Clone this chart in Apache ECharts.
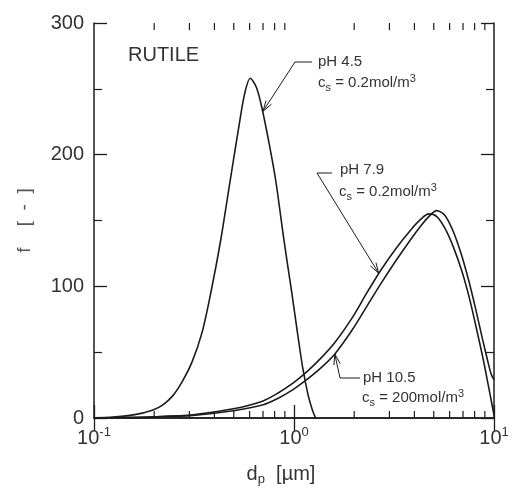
<!DOCTYPE html>
<html><head><meta charset="utf-8">
<script src="https://cdn.jsdelivr.net/npm/echarts@6/dist/echarts.min.js"></script>
<style>html,body{margin:0;padding:0;background:#fff}#c{width:516px;height:491px}</style>
</head><body><div id="c"></div>
<script>
// ---- data ----
const ph45_d = [0.100,0.1245,0.148,0.172,0.197,0.221,0.248,0.277,0.310,0.347,0.386,0.430,0.477,0.531,0.566,0.604,0.649,0.690,0.752,0.811,0.889,0.973,1.038,1.106,1.178,1.236,1.282];
const ph45_f = [0.2,0.8,1.8,3.5,6,10,17,28,43,65,97,135,178,222,246,258,251,236,208,180,136,96,66,38,17,6,0];

const ph79_d = [0.100,0.1245,0.198,0.313,0.497,0.701,0.833,0.988,1.108,1.314,1.594,1.953,2.312,2.737,3.243,3.843,4.306,4.717,5.176,5.689,6.259,6.892,7.507,8.085,8.819,9.387,9.748,10];
const ph79_f = [0.15,0.3,1,2.5,7,13,19,26.5,32.5,43,57,76,95,113,129,143,151,155,153,144,130,112,92,71,45,24,11,2];

const ph105_d = [0.100,0.1245,0.198,0.313,0.497,0.702,0.834,0.989,1.109,1.316,1.597,1.957,2.317,2.744,3.250,3.849,4.311,4.720,5.170,5.675,6.242,6.874,7.486,8.062,8.790,9.348,9.698,10];
const ph105_f = [0.15,0.3,0.8,2,5.5,10,15,21.5,27,36,48.5,67,85,103,120,136,146,153,157.5,154,142,124,104,84,59,42,33,29];

const minorLogTicks = [0.2,0.3,0.4,0.5,0.6,0.7,0.8,0.9,2,3,4,5,6,7,8,9];
const yMin = 0, yMax = 300, yStep = 100;

const FONT = "'Liberation Sans', Arial, Helvetica, sans-serif";
const INK = '#1c1c1c';
const TXT = '#333';

function zip(a, b) { return a.map((v, i) => [v, b[i]]); }

const chart = echarts.init(document.getElementById('c'), null, {renderer: 'canvas'});

const supRich = {
  b: {fontSize: 20, fontFamily: FONT, fontWeight: 'normal', color: TXT, lineHeight: 24},
  s: {fontSize: 13, fontFamily: FONT, fontWeight: 'normal', color: TXT, lineHeight: 14, verticalAlign: 'top'}
};

const lineSeries = (name, d, f) => ({
  name, type: 'line', data: zip(d, f), showSymbol: false, smooth: 0.3,
  lineStyle: {color: INK, width: 1.6}, silent: true, z: 3
});

const option = {
  animation: false,
  backgroundColor: '#fff',
  grid: {left: 94, right: 22, top: 23, bottom: 69},
  xAxis: [
    {
      type: 'log', logBase: 10, min: 0.1, max: 10, position: 'bottom',
      axisLine: {lineStyle: {color: INK, width: 1.5}},
      axisTick: {inside: true, length: 13, lineStyle: {color: INK, width: 1.3}},
      splitLine: {show: false},
      axisLabel: {
        margin: 8,
        formatter: v => '{b|10}{s|' + Math.round(Math.log10(v)) + '}',
        rich: supRich
      },
      name: '{b|d}{sb|p}{b|  [µm]}',
      nameLocation: 'middle', nameGap: 44,
      nameTextStyle: {
        padding: [0, 26, 0, 0],
        rich: {
          b: {fontSize: 20, fontFamily: FONT, fontWeight: 'normal', color: TXT, lineHeight: 24},
          sb: {fontSize: 13, fontFamily: FONT, fontWeight: 'normal', color: TXT, lineHeight: 14, verticalAlign: 'bottom'}
        }
      }
    },
    {
      type: 'log', logBase: 10, min: 0.1, max: 10, position: 'top',
      axisLine: {lineStyle: {color: INK, width: 1.5}},
      axisTick: {inside: true, length: 13, lineStyle: {color: INK, width: 1.3}},
      axisLabel: {show: false}, splitLine: {show: false}
    }
  ],
  yAxis: [
    {
      type: 'value', min: yMin, max: yMax, interval: yStep, position: 'left',
      axisLine: {show: true, lineStyle: {color: INK, width: 1.5}},
      axisTick: {show: true, inside: true, length: 13, lineStyle: {color: INK, width: 1.3}},
      minorTick: {show: true, splitNumber: 2, length: 8, lineStyle: {color: INK, width: 1.2}},
      splitLine: {show: false},
      axisLabel: {margin: 10, fontSize: 20, fontFamily: FONT, color: TXT},
      name: 'f    [  -  ]', nameLocation: 'middle', nameGap: 60,
      nameTextStyle: {fontSize: 19, fontFamily: FONT, color: '#555'}
    },
    {
      type: 'value', min: yMin, max: yMax, interval: yStep, position: 'right',
      axisLine: {show: true, lineStyle: {color: INK, width: 1.5}},
      axisTick: {show: true, inside: true, length: 13, lineStyle: {color: INK, width: 1.3}},
      minorTick: {show: true, splitNumber: 2, length: 8, lineStyle: {color: INK, width: 1.2}},
      splitLine: {show: false},
      axisLabel: {show: false}
    }
  ],
  series: [
    lineSeries('pH 4.5', ph45_d, ph45_f),
    lineSeries('pH 7.9', ph79_d, ph79_f),
    lineSeries('pH 10.5', ph105_d, ph105_f),
    {
      type: 'custom', silent: true, clip: false, z: 4,
      data: minorLogTicks.map(v => [v, yMin]),
      encode: {x: 0, y: 1},
      renderItem: (params, api) => {
        const v = api.value(0);
        const b = api.coord([v, yMin]);
        const t = api.coord([v, yMax]);
        const L = 7;
        const st = {stroke: INK, lineWidth: 1.2};
        return {type: 'group', children: [
          {type: 'line', shape: {x1: b[0], y1: b[1], x2: b[0], y2: b[1] - L}, style: st},
          {type: 'line', shape: {x1: t[0], y1: t[1], x2: t[0], y2: t[1] + L}, style: st}
        ]};
      }
    }
  ]
};
chart.setOption(option);

// ---- annotations ----
const annRich = {
  m: {fontSize: 15, fontFamily: FONT, fontWeight: 'normal', fill: TXT, lineHeight: 20},
  sub: {fontSize: 11, fontFamily: FONT, fontWeight: 'normal', fill: TXT, lineHeight: 12, verticalAlign: 'bottom'},
  sup: {fontSize: 11, fontFamily: FONT, fontWeight: 'normal', fill: TXT, lineHeight: 12, verticalAlign: 'top'}
};
const annotations = [
  {l1: 'pH 4.5', l2: '{m|c}{sub|s}{m| = 0.2mol/m}{sup|3}', tip: [0.70, 233], elbow: [295, 62], end: [312, 62], t1: [318, 62], t2: [318, 83]},
  {l1: 'pH 7.9', l2: '{m|c}{sub|s}{m| = 0.2mol/m}{sup|3}', tip: [2.65, 110], elbow: [317, 173], end: [332, 173], t1: [340, 170], t2: [339, 192]},
  {l1: 'pH 10.5', l2: '{m|c}{sub|s}{m| = 200mol/m}{sup|3}', tip: [1.60, 48.5], elbow: [340, 378], end: [360, 378], t1: [363, 378], t2: [362, 398]}
];
const gfx = [];
annotations.forEach(a => {
  const p = chart.convertToPixel({xAxisIndex: 0, yAxisIndex: 0}, a.tip);
  gfx.push({type: 'polyline', shape: {points: [p, a.elbow, a.end]}, style: {stroke: INK, lineWidth: 1, fill: null}, z: 10});
  const ang = Math.atan2(a.elbow[1] - p[1], a.elbow[0] - p[0]);
  const len = 11, spread = 0.3;
  const h1 = [p[0] + len * Math.cos(ang + spread), p[1] + len * Math.sin(ang + spread)];
  const h2 = [p[0] + len * Math.cos(ang - spread), p[1] + len * Math.sin(ang - spread)];
  gfx.push({type: 'polyline', shape: {points: [h1, p, h2]}, style: {stroke: INK, lineWidth: 1, fill: null}, z: 10});
  gfx.push({type: 'text', x: a.t1[0], y: a.t1[1], style: {text: a.l1, font: 'normal 15px ' + FONT, fill: TXT, verticalAlign: 'middle', align: 'left'}, z: 10});
  gfx.push({type: 'text', x: a.t2[0], y: a.t2[1], style: {text: a.l2, rich: annRich, fill: TXT, fontWeight: 'normal', verticalAlign: 'middle', align: 'left'}, z: 10});
});
gfx.push({type: 'text', x: 128, y: 55, style: {text: 'RUTILE', font: 'normal 20px ' + FONT, fill: TXT, verticalAlign: 'middle', align: 'left'}, z: 10});
chart.setOption({graphic: {elements: gfx}});
</script>
</body></html>
